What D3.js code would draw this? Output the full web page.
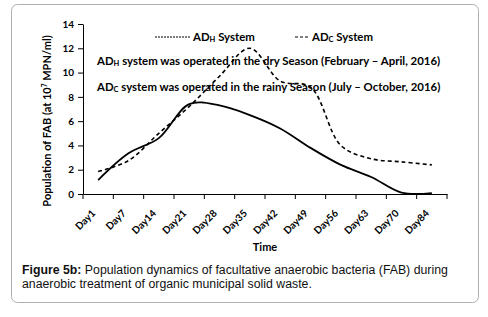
<!DOCTYPE html>
<html>
<head>
<meta charset="utf-8">
<script src="https://cdn.jsdelivr.net/npm/d3@7"></script>
<style>
  body { margin: 0; background: #fff; }
  svg { display: block; }
</style>
</head>
<body>
<script>
var days = ['Day1','Day7','Day14','Day21','Day28','Day35','Day42','Day49','Day56','Day63','Day70','Day84'];
var adH = [1.15, 3.35, 4.6, 7.4, 7.3, 6.5, 5.4, 3.8, 2.4, 1.4, 0.12, 0.08];   // solid line
var adC = [1.85, 2.75, 5.0, 7.2, 9.7, 12.0, 9.3, 8.8, 4.0, 2.9, 2.65, 2.4];   // dashed line
var yTicks = [0, 2, 4, 6, 8, 10, 12, 14];

var width = 488, height = 317;
var margin = {left: 83, right: 41, top: 24, bottom: 123};
var font = "Lato, 'Open Sans', sans-serif";

var svg = d3.select("body").append("svg").attr("width", width).attr("height", height);

// outer frame
svg.append("rect")
    .attr("x", 11.5).attr("y", 4.5).attr("width", 467).attr("height", 298)
    .attr("rx", 6).attr("fill", "#fff").attr("stroke", "#b0b0b0").attr("stroke-width", 1);

var x = d3.scaleBand().domain(days).range([margin.left, width - margin.right]);
var y = d3.scaleLinear().domain([0, 14]).range([height - margin.bottom, margin.top]);

// axes
var yAxis = d3.axisLeft(y).tickValues(yTicks).tickSize(5).tickPadding(4).tickSizeOuter(0);
var xAxis = d3.axisBottom(x).tickSize(0).tickFormat("");

var gy = svg.append("g").attr("transform", "translate(" + margin.left + ",0)").call(yAxis);
gy.selectAll("text").attr("font-family", font).attr("font-weight", "bold").attr("font-size", 10).attr("fill", "#000");
gy.select(".domain").attr("stroke", "#000");
gy.selectAll("line").attr("stroke", "#000");

var gx = svg.append("g").attr("transform", "translate(0," + y(0) + ")").call(xAxis);
gx.select(".domain").attr("stroke", "#000");
// tick marks at band edges
var edges = days.map(function(d){ return x(d); }).concat([x(days[days.length - 1]) + x.bandwidth()]);
gx.selectAll("line.edge").data(edges).enter().append("line")
    .attr("class", "edge")
    .attr("x1", function(d){ return d; }).attr("x2", function(d){ return d; })
    .attr("y1", 0).attr("y2", 5).attr("stroke", "#000");
gx.selectAll("text.lbl").data(days).enter().append("text")
    .attr("class", "lbl")
    .attr("transform", function(d){ return "translate(" + (x(d) + x.bandwidth() / 2 - 2) + ",20) rotate(-45)"; })
    .attr("text-anchor", "end")
    .attr("fill", "#000")
    .attr("font-family", font).attr("font-weight", "bold").attr("font-size", 10)
    .text(function(d){ return d; });

// lines
var line = d3.line()
    .x(function(d, i){ return x(days[i]) + x.bandwidth() / 2; })
    .y(function(d){ return y(d); })
    .curve(d3.curveCatmullRom);

svg.append("path").attr("d", line(adH))
    .attr("fill", "none").attr("stroke", "#000").attr("stroke-width", 1.8);
svg.append("path").attr("d", line(adC))
    .attr("fill", "none").attr("stroke", "#000").attr("stroke-width", 1.6)
    .attr("stroke-dasharray", "4,3");

// legend
svg.append("line").attr("x1", 155).attr("x2", 190).attr("y1", 37).attr("y2", 37)
    .attr("stroke", "#000").attr("stroke-width", 1).attr("stroke-dasharray", "2,1");
svg.append("line").attr("x1", 295).attr("x2", 310).attr("y1", 37).attr("y2", 37)
    .attr("stroke", "#000").attr("stroke-width", 1).attr("stroke-dasharray", "3,2");

function subText(xp, yp, sub, rest) {
  var t = svg.append("text").attr("x", xp).attr("y", yp)
      .attr("font-family", font).attr("font-weight", "bold").attr("font-size", 11.4);
  t.append("tspan").text("AD");
  t.append("tspan").attr("font-size", 7.5).attr("dy", 1).text(sub);
  t.append("tspan").attr("dy", -1).text(rest);
  return t;
}
subText(193, 41, "H", " System");
subText(312, 41, "C", " System");
subText(97, 65, "H", " system was operated  in the dry Season (February \u2013 April, 2016)");
subText(97, 91, "C", " system was operated  in the rainy Season (July \u2013 October, 2016)");

// axis titles
var yl = svg.append("text")
    .attr("transform", "translate(51," + 121 + ") rotate(-90)")
    .attr("text-anchor", "middle")
    .attr("font-family", font).attr("font-weight", "bold").attr("font-size", 11);
yl.append("tspan").text("Population  of FAB (at 10");
yl.append("tspan").attr("font-size", 6.5).attr("dy", -4).text("7");
yl.append("tspan").attr("dy", 4).text(" MPN/ml)");

svg.append("text").attr("x", 265).attr("y", 251).attr("text-anchor", "middle")
    .attr("font-family", font).attr("font-weight", "bold").attr("font-size", 11).text("Time");

// caption
var cap = svg.append("text").attr("x", 22).attr("y", 274)
    .attr("font-family", "'Liberation Sans', Arial, sans-serif").attr("font-size", 12.3).attr("fill", "#111");
cap.append("tspan").attr("font-weight", "bold").text("Figure 5b:");
cap.append("tspan").text(" Population dynamics of facultative anaerobic bacteria (FAB) during");
svg.append("text").attr("x", 22).attr("y", 288)
    .attr("font-family", "'Liberation Sans', Arial, sans-serif").attr("font-size", 12.3).attr("fill", "#111")
    .text("anaerobic treatment of organic municipal solid waste.");
</script>
</body>
</html>
